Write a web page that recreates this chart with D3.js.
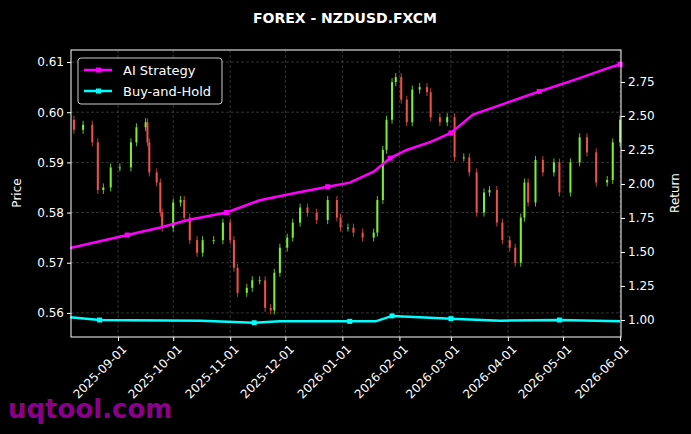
<!DOCTYPE html><html><head><meta charset="utf-8"><script src="https://cdn.jsdelivr.net/npm/d3@7"></script>
<style>body{margin:0;background:#000}svg{display:block}</style></head><body><svg id="c" width="691" height="434"></svg>
<script>
// days since 2025-08-01
const candleDays=[7,12,17,20,23,27,32,38,41,46,47,48,52,54,55,61,65,67,70,74,77,83,88,92,94,96,101,104,108,111,114,116,119,123,126,130,134,139,145,150,152,156,159,164,170,172,175,177,180,182,185,188,191,195,199,201,206,210,214,219,222,226,230,233,237,240,244,247,250,252,254,258,262,268,271,277,282,286,291,297,300,304];
const closes=[0.5965,0.5975,0.594,0.5845,0.585,0.589,0.589,0.594,0.597,0.598,0.594,0.588,0.586,0.580,0.577,0.582,0.5825,0.579,0.5745,0.572,0.5745,0.5745,0.578,0.5745,0.569,0.564,0.565,0.5665,0.5665,0.561,0.5605,0.568,0.573,0.575,0.578,0.581,0.580,0.5785,0.5825,0.579,0.577,0.577,0.576,0.575,0.576,0.5825,0.5925,0.5985,0.606,0.607,0.6025,0.598,0.6045,0.605,0.604,0.599,0.598,0.599,0.591,0.591,0.588,0.580,0.584,0.5845,0.578,0.5745,0.573,0.570,0.579,0.586,0.582,0.5905,0.588,0.590,0.584,0.590,0.595,0.592,0.586,0.5865,0.594,0.5985];
const firstOpen=0.5985;
const stratDays=[5,36,54,69,90,108,126,145,157,170,179,188,201,212,224,243,260,278,297,304];
const stratVals=[1.53,1.625,1.68,1.735,1.79,1.88,1.93,1.98,2.01,2.09,2.19,2.25,2.31,2.375,2.51,2.60,2.68,2.76,2.85,2.88];
const bhDays=[5,21,76,105,119,157,171,180,195,212,239,271,304];
const bhVals=[1.02,1.0,0.995,0.98,0.99,0.99,0.99,1.03,1.02,1.01,0.995,1.0,0.99];
const priceTicks=[0.56,0.57,0.58,0.59,0.60,0.61];
const retTicks=[1.00,1.25,1.50,1.75,2.00,2.25,2.50,2.75];

const base=new Date(2025,7,1);
const dt=d=>d3.timeDay.offset(base,d);
const svg=d3.select("#c");
svg.append("rect").attr("width",691).attr("height",434).attr("fill","#000");
const L=71,R=621,T=50,B=337;
const x=d3.scaleTime().domain([new Date(2025,7,6,10),new Date(2026,5,1,12)]).range([L,R]);
const y=d3.scaleLinear().domain([0.5552,0.6124]).range([B,T]);
const y2=d3.scaleLinear().domain([0.875,2.985]).range([B,T]);
const months=d3.timeMonth.range(new Date(2025,8,1),new Date(2026,5,2));
const g=svg.append("g");
g.selectAll(".vg").data(months).join("line").attr("x1",d=>x(d)).attr("x2",d=>x(d)).attr("y1",T).attr("y2",B).attr("stroke","#555").attr("stroke-dasharray","3,2").attr("stroke-width",0.6);
g.selectAll(".hg").data(priceTicks).join("line").attr("x1",L).attr("x2",R).attr("y1",d=>y(d)).attr("y2",d=>y(d)).attr("stroke","#555").attr("stroke-dasharray","3,2").attr("stroke-width",0.6);
const cd=candleDays.map((d,i)=>({d:dt(d),o:i?closes[i-1]:firstOpen,c:closes[i]}));
const col=d=>d.c>=d.o?"#76f23a":"#f0504a";
g.selectAll(".cw").data(cd).join("line").attr("x1",d=>x(d.d)).attr("x2",d=>x(d.d))
 .attr("y1",d=>y(Math.max(d.o,d.c)+0.0008)).attr("y2",d=>y(Math.min(d.o,d.c)-0.0008)).attr("stroke",col).attr("stroke-width",0.8);
g.selectAll(".cb").data(cd).join("rect").attr("x",d=>x(d.d)-1).attr("width",2)
 .attr("y",d=>y(Math.max(d.o,d.c))).attr("height",d=>Math.max(1,Math.abs(y(d.o)-y(d.c)))).attr("fill",col);
const line=d3.line().x(d=>x(d[0])).y(d=>y2(d[1]));
const sd=stratDays.map((d,i)=>[dt(d),stratVals[i]]), bd=bhDays.map((d,i)=>[dt(d),bhVals[i]]);
g.append("path").attr("d",line(sd)).attr("fill","none").attr("stroke","#ff00ff").attr("stroke-width",2.5);
g.append("path").attr("d",line(bd)).attr("fill","none").attr("stroke","#00ffff").attr("stroke-width",2.5);
g.selectAll(".sm").data(sd.filter((d,i)=>i%3==1)).join("rect").attr("x",d=>x(d[0])-2.5).attr("y",d=>y2(d[1])-2.5).attr("width",5).attr("height",5).attr("fill","#ff00ff");
g.selectAll(".bm").data(bd.filter((d,i)=>i%2==1)).join("rect").attr("x",d=>x(d[0])-2.5).attr("y",d=>y2(d[1])-2.5).attr("width",5).attr("height",5).attr("fill","#00ffff");
svg.append("rect").attr("x",L).attr("y",T).attr("width",R-L).attr("height",B-T).attr("fill","none").attr("stroke","#fff");
const fs="DejaVu Sans, sans-serif";
const ax=svg.append("g").attr("transform",`translate(${L},0)`).call(d3.axisLeft(y).tickValues(priceTicks).tickFormat(d3.format(".2f")).tickSize(4));
const ax2=svg.append("g").attr("transform",`translate(${R},0)`).call(d3.axisRight(y2).tickValues(retTicks).tickFormat(d3.format(".2f")).tickSize(4));
const ax3=svg.append("g").attr("transform",`translate(0,${B})`).call(d3.axisBottom(x).tickValues(months).tickFormat(d3.timeFormat("%Y-%m-%d")).tickSize(4));
[ax,ax2,ax3].forEach(a=>{a.select(".domain").remove();a.selectAll("line").attr("stroke","#fff");a.selectAll("text").attr("fill","#fff").style("font-family",fs).style("font-size","12px");});
ax3.selectAll("text").attr("text-anchor","end").attr("dx","0").attr("dy","0").attr("transform","translate(4,8) rotate(-45)");
svg.append("text").attr("x",345).attr("y",23).attr("text-anchor","middle").attr("fill","#fff").style("font-family",fs).style("font-size","14px").style("font-weight","bold").text("FOREX - NZDUSD.FXCM");
svg.append("text").attr("transform","translate(21,193) rotate(-90)").attr("text-anchor","middle").attr("fill","#fff").style("font-family",fs).style("font-size","12px").text("Price");
svg.append("text").attr("transform","translate(679,193) rotate(-90)").attr("text-anchor","middle").attr("fill","#fff").style("font-family",fs).style("font-size","12px").text("Return");
const lg=svg.append("g");
lg.append("rect").attr("x",78).attr("y",58).attr("width",144).attr("height",46).attr("rx",3).attr("fill","#000").attr("stroke","#ccc");
[["AI Strategy","#ff00ff",70],["Buy-and-Hold","#00ffff",91]].forEach(([t,c,yy])=>{
 lg.append("line").attr("x1",84).attr("x2",112).attr("y1",yy).attr("y2",yy).attr("stroke",c).attr("stroke-width",2.5);
 lg.append("rect").attr("x",96).attr("y",yy-2.5).attr("width",5).attr("height",5).attr("fill",c);
 lg.append("text").attr("x",123).attr("y",yy+4.5).attr("fill","#fff").style("font-family",fs).style("font-size","13px").text(t);
});
svg.append("text").attr("x",8).attr("y",418).attr("fill","#8b008b").style("font-family",fs).style("font-size","26px").style("font-weight","bold").text("uqtool.com");
</script></body></html>
